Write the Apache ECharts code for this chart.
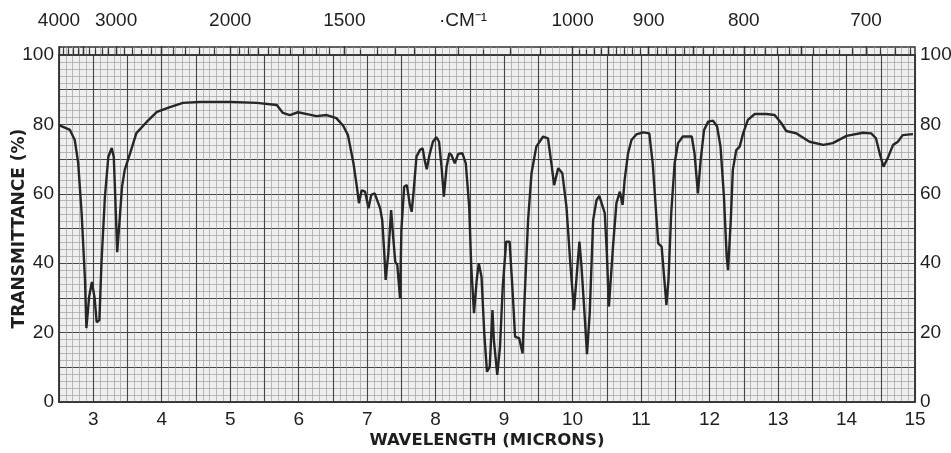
<!DOCTYPE html>
<html lang="en">
<head>
    <meta charset="UTF-8">
    <title>IR Spectrum</title>
    <style>
        * { margin: 0; padding: 0; }
        html, body { background: #fff; }
        #chart-container { width: 951px; height: 453px; }
    </style>
</head>
<body>
    <div id="chart-container"></div>
    <script src="https://cdn.jsdelivr.net/npm/echarts@6/dist/echarts.min.js"></script>
    <script>
        // wavelength (microns) and transmittance (%)
        var microns = [
            2.5, 2.66, 2.73, 2.78, 2.83, 2.88, 2.90, 2.94, 2.98, 3.02, 3.05, 3.09, 3.12, 3.17, 3.22, 3.27,
            3.30, 3.33, 3.35, 3.38, 3.42, 3.46, 3.54, 3.63, 3.78, 3.93, 4.12, 4.31, 4.56, 5.0, 5.39, 5.68,
            5.77, 5.87, 5.99, 6.14, 6.26, 6.41, 6.55, 6.65, 6.72, 6.80, 6.85, 6.88, 6.92, 6.97, 7.02, 7.06,
            7.11, 7.19, 7.22, 7.25, 7.27, 7.31, 7.35, 7.38, 7.41, 7.44, 7.48, 7.50, 7.54, 7.58, 7.62, 7.65,
            7.68, 7.72, 7.77, 7.81, 7.84, 7.87, 7.91, 7.96, 8.01, 8.05, 8.09, 8.12, 8.16, 8.20, 8.23, 8.28,
            8.33, 8.39, 8.44, 8.49, 8.52, 8.56, 8.60, 8.63, 8.67, 8.71, 8.75, 8.79, 8.83, 8.85, 8.90, 8.94,
            8.98, 9.03, 9.08, 9.12, 9.16, 9.22, 9.27, 9.30, 9.35, 9.40, 9.47, 9.57, 9.64, 9.69, 9.73, 9.79,
            9.85, 9.91, 9.97, 10.02, 10.07, 10.10, 10.13, 10.18, 10.21, 10.25, 10.30, 10.35, 10.39, 10.44, 10.47, 10.50,
            10.53, 10.59, 10.64, 10.69, 10.73, 10.76, 10.81, 10.86, 10.93, 11.03, 11.12, 11.17, 11.22, 11.25, 11.30, 11.34,
            11.37, 11.40, 11.44, 11.49, 11.54, 11.61, 11.74, 11.78, 11.83, 11.87, 11.92, 11.98, 12.05, 12.11, 12.16, 12.21,
            12.25, 12.27, 12.31, 12.34, 12.39, 12.44, 12.49, 12.56, 12.66, 12.83, 12.95, 13.05, 13.12, 13.27, 13.46, 13.66,
            13.80, 14.0, 14.24, 14.36, 14.43, 14.49, 14.54, 14.61, 14.68, 14.75, 14.82, 14.97
        ];
        var transmittance = [
            79.8, 78.4, 75.5, 68.9, 54.5, 35, 21.3, 30.3, 34.6, 30, 23, 23.6, 40, 59, 70.6, 73.2,
            70.6, 54.5, 43.2, 51, 62, 66.9, 71.8, 77.5, 80.7, 83.6, 85, 86.2, 86.5, 86.5, 86.2, 85.6,
            83.3, 82.7, 83.5, 82.9, 82.4, 82.7, 81.8, 79.6, 76.9, 68.8, 62, 57.3, 61, 60.6, 55.8, 59.7,
            60.1, 55.8, 52.4, 42.9, 35.2, 43, 55.3, 47.6, 40.4, 39.5, 29.9, 49.6, 62, 62.5, 57.3, 54.8,
            61, 70.7, 72.6, 73.1, 69.7, 67.1, 71.2, 75, 76.3, 75, 66.9, 59.2, 67.8, 71.7, 71.2, 68.8,
            71.5, 71.7, 68.8, 56.3, 39, 25.6, 35.2, 40, 36.1, 19.8, 8.7, 10.2, 26.5, 17.9, 7.8, 16,
            33.2, 46.2, 46.2, 33.2, 18.8, 18.4, 14, 30.4, 52.4, 65.9, 73.6, 76.5, 76, 68.8, 62.5, 67.4,
            65.9, 56.3, 39, 26.5, 39, 46.2, 39, 23.6, 13.8, 25.6, 52.4, 58.2, 59.4, 56.3, 54.4, 42.9,
            27.5, 44.8, 57.3, 60.6, 56.8, 64, 71.7, 75.5, 77.1, 77.7, 77.4, 68.8, 54.4, 45.7, 44.8, 35.2,
            28, 35.2, 54.4, 68.8, 74.6, 76.5, 76.5, 71.7, 60.1, 69.7, 78.4, 80.8, 81.1, 79.4, 73.6, 59.2,
            41.9, 38, 52.4, 66.9, 72.6, 73.6, 77.4, 81.3, 83, 83, 82.7, 80.3, 78.1, 77.4, 75, 74.1,
            74.6, 76.7, 77.6, 77.4, 76, 71.2, 67.8, 70.7, 74.1, 75, 76.9, 77.2
        ];

        // top scale, in wavenumbers (cm-1)
        var wnLabels = [4000, 3000, 2000, 1500, 1000, 900, 800, 700];
        var wnMajorTicks = [4000, 3500, 3000, 2500, 2000, 1500, 1000, 950, 900, 850, 800, 750, 700];
        var wnMinorTicks = [];
        var w;
        for (w = 3900; w > 2000; w -= 100) wnMinorTicks.push(w);
        for (w = 1950; w > 1000; w -= 50) wnMinorTicks.push(w);
        for (w = 990; w >= 670; w -= 10) wnMinorTicks.push(w);

        var toMicrons = function (wn) { return 10000 / wn; };

        var points = microns.map(function (m, i) { return [m, transmittance[i]]; });

        var fontFam = '"Liberation Sans", Arial, sans-serif';
        var nameFam = '"DejaVu Sans", sans-serif';
        var textColor = '#1e1e1e';
        var majorLine = { show: true, lineStyle: { color: '#454545', width: 1.1 } };
        var minorLine = { show: true, lineStyle: { color: '#a0a0a0', width: 0.7 } };

        var dom = document.getElementById('chart-container');
        var myChart = echarts.init(dom, null, { renderer: 'canvas' });

        var option = {
            animation: false,
            grid: [
                { left: 59, right: 36, top: 55, bottom: 51, show: true, backgroundColor: '#efefef',
                  borderColor: '#333', borderWidth: 1.5, containLabel: false, outerBoundsMode: 'none' },
                { left: 59, right: 36, top: 47, height: 8, show: true, backgroundColor: '#efefef',
                  borderColor: '#333', borderWidth: 1.5, containLabel: false, outerBoundsMode: 'none' },
                { left: 59, right: 36, top: 47, height: 8, show: false,
                  containLabel: false, outerBoundsMode: 'none' }
            ],
            xAxis: [
                {
                    gridIndex: 0, type: 'value', position: 'bottom',
                    min: 2.5, max: 15, interval: 0.5,
                    axisLine: { show: true, lineStyle: { color: '#333', width: 1.5 } },
                    axisTick: { show: false },
                    minorTick: { show: false, splitNumber: 5 },
                    axisLabel: {
                        margin: 8, color: textColor, fontFamily: fontFam, fontSize: 19,
                        formatter: function (v) { return v % 1 === 0 ? String(v) : ''; }
                    },
                    splitLine: majorLine,
                    minorSplitLine: minorLine,
                    name: 'WAVELENGTH (MICRONS)', nameLocation: 'middle', nameGap: 30,
                    nameMoveOverlap: false,
                    nameTextStyle: { color: textColor, fontFamily: nameFam, fontSize: 16.5, fontWeight: 'bold' }
                },
                {
                    gridIndex: 1, type: 'value', position: 'top',
                    min: 2.5, max: 15, interval: 0.5,
                    axisLine: { show: true, lineStyle: { color: '#333', width: 1.5 } },
                    axisTick: {
                        show: true, inside: false, length: 5,
                        customValues: wnMinorTicks.map(toMicrons),
                        lineStyle: { color: '#333', width: 1.2 }
                    },
                    minorTick: { show: false, splitNumber: 5 },
                    axisLabel: { show: false },
                    splitLine: majorLine,
                    minorSplitLine: minorLine
                },
                {
                    gridIndex: 2, type: 'value', position: 'top',
                    min: 2.5, max: 15,
                    axisLine: { show: false },
                    axisTick: {
                        show: true, inside: false, length: 9,
                        customValues: wnMajorTicks.map(toMicrons),
                        lineStyle: { color: '#333', width: 1.4 }
                    },
                    axisLabel: {
                        show: true, margin: 17, color: textColor, fontFamily: fontFam, fontSize: 19,
                        showMinLabel: true, showMaxLabel: true,
                        customValues: wnLabels.map(toMicrons),
                        formatter: function (v) { return String(Math.round(10000 / v)); }
                    },
                    splitLine: { show: false }
                }
            ],
            yAxis: [
                {
                    gridIndex: 0, type: 'value', position: 'left',
                    min: 0, max: 100, interval: 10,
                    axisLine: { show: true, lineStyle: { color: '#333', width: 1.5 } },
                    axisTick: { show: false },
                    minorTick: { show: false, splitNumber: 5 },
                    axisLabel: {
                        margin: 5, color: textColor, fontFamily: fontFam, fontSize: 19,
                        formatter: function (v) { return v % 20 === 0 ? String(v) : ''; }
                    },
                    splitLine: majorLine,
                    minorSplitLine: minorLine,
                    name: 'TRANSMITTANCE (%)', nameLocation: 'middle', nameGap: 31, nameRotate: 90,
                    nameMoveOverlap: false,
                    nameTextStyle: { color: textColor, fontFamily: nameFam, fontSize: 17, fontWeight: 'bold' }
                },
                {
                    gridIndex: 0, type: 'value', position: 'right',
                    min: 0, max: 100, interval: 10,
                    axisLine: { show: true, lineStyle: { color: '#333', width: 1.5 } },
                    axisTick: { show: false },
                    axisLabel: {
                        margin: 5, color: textColor, fontFamily: fontFam, fontSize: 19,
                        formatter: function (v) { return v % 20 === 0 ? String(v) : ''; }
                    },
                    splitLine: { show: false }
                },
                { gridIndex: 1, type: 'value', min: 0, max: 1, show: false },
                { gridIndex: 2, type: 'value', min: 0, max: 1, show: false }
            ],
            graphic: [
                {
                    type: 'text', x: 463, y: 21,
                    style: {
                        text: '·CM⁻¹', align: 'center', verticalAlign: 'middle',
                        fill: textColor, font: '19px "Liberation Sans", Arial, sans-serif'
                    }
                }
            ],
            series: [
                {
                    type: 'line',
                    xAxisIndex: 0, yAxisIndex: 0,
                    data: points,
                    showSymbol: false,
                    smooth: false,
                    lineStyle: { color: '#262626', width: 2.4 }
                }
            ]
        };

        myChart.setOption(option);
        window.addEventListener('resize', myChart.resize);
    </script>
</body>
</html>
